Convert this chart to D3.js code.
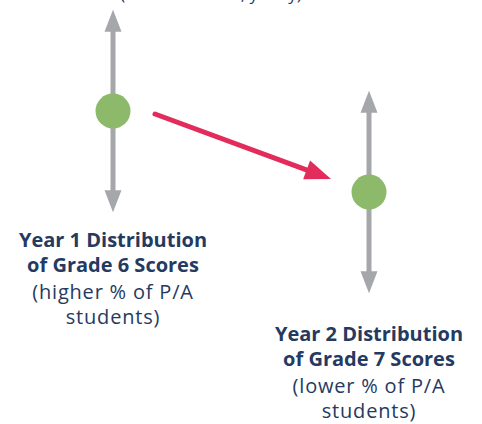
<!DOCTYPE html>
<html>
<head>
<meta charset="utf-8">
<script src="https://cdn.jsdelivr.net/npm/d3@7"></script>
<style>
  html, body { margin: 0; padding: 0; background: #fff; }
  svg { display: block; }
</style>
</head>
<body>
<div id="chart"></div>
<script>
'use strict';

// two distributions: where the mean sits and how far the spread reaches
const years = ["Year 1", "Year 2"];
const means = [60, 40];
const spreadHigh = [85, 65];
const spreadLow = [35, 15];
const titleLines = [["Year 1 Distribution", "of Grade 6 Scores"], ["Year 2 Distribution", "of Grade 7 Scores"]];
const noteLines = [["(higher % of P/A", "students)"], ["(lower % of P/A", "students)"]];
const topNote = "(mean % of P/A, yearly)";

(function() {
  const width = 482, height = 424;
  const gray = "#a6a7ab", green = "#8dba6a", red = "#e22c5b", ink = "#253a60";
  const font = "'Open Sans', Lato, sans-serif";

  let svg = d3.select('#chart').append('svg')
    .attr('width', width)
    .attr('height', height);

  // x position of each distribution
  let xScale = d3.scalePoint()
    .domain(years)
    .range([113, 369]);

  // score -> vertical pixel
  let yScale = d3.scaleLinear()
    .domain([0, 100])
    .range([354, -51]);

  let rows = years.map((y, i) => ({
    year: y, mean: means[i], hi: spreadHigh[i], lo: spreadLow[i],
    title: titleLines[i], note: noteLines[i]
  }));

  // half cut-off caption at the very top (as in the source)
  svg.append('text')
    .attr('x', 211)
    .attr('y', 0)
    .attr('text-anchor', 'middle')
    .style('font-family', font)
    .style('font-size', '17px')
    .style('fill', ink)
    .text(topNote);

  const headLen = 22, headW = 8.5, shaft = 5;

  // spread arrows (vertical, double headed)
  let g = svg.selectAll('.dist')
    .data(rows)
    .enter()
    .append('g')
    .attr('class', 'dist');

  g.append('line')
    .attr('x1', d => xScale(d.year))
    .attr('x2', d => xScale(d.year))
    .attr('y1', d => yScale(d.hi) + headLen - 1)
    .attr('y2', d => yScale(d.lo) - headLen + 1)
    .style('stroke', gray)
    .style('stroke-width', shaft);

  g.append('path')
    .attr('d', d => {
      let x = xScale(d.year), t = yScale(d.hi);
      return `M${x},${t}L${x + headW},${t + headLen}L${x - headW},${t + headLen}Z`;
    })
    .style('fill', gray);

  g.append('path')
    .attr('d', d => {
      let x = xScale(d.year), b = yScale(d.lo);
      return `M${x},${b}L${x + headW},${b - headLen}L${x - headW},${b - headLen}Z`;
    })
    .style('fill', gray);

  g.append('circle')
    .attr('cx', d => xScale(d.year))
    .attr('cy', d => yScale(d.mean))
    .attr('r', 17.5)
    .style('fill', green);

  // labels under each distribution
  g.each(function(d) {
    let x = xScale(d.year);
    let base = yScale(d.lo) + 35 + (d.year === "Year 2" ? 13 : 0);
    let t = d3.select(this).append('text')
      .attr('text-anchor', 'middle')
      .style('font-family', font)
      .style('fill', ink);
    d.title.forEach((line, k) => {
      t.append('tspan')
        .attr('x', x)
        .attr('y', base + k * 25)
        .style('font-weight', 'bold')
        .style('font-size', '20px')
        .text(line);
    });
    d.note.forEach((line, k) => {
      t.append('tspan')
        .attr('x', x)
        .attr('y', base + 52 + k * 25)
        .style('font-size', '20px')
        .style('letter-spacing', '0.8px')
        .text(line);
    });
  });

  // red arrow: change from year 1 to year 2
  let x0 = xScale(years[0]) + 42, y0 = yScale(means[0]) + 3;
  let x1 = xScale(years[1]) - 38, y1 = yScale(means[1]) - 13;
  let ang = Math.atan2(y1 - y0, x1 - x0);
  let rLen = 26, rW = 10;
  let bx = x1 - rLen * Math.cos(ang), by = y1 - rLen * Math.sin(ang);

  svg.append('line')
    .attr('x1', x0).attr('y1', y0)
    .attr('x2', bx + 2 * Math.cos(ang)).attr('y2', by + 2 * Math.sin(ang))
    .style('stroke', red)
    .style('stroke-width', 5)
    .style('stroke-linecap', 'round');

  svg.append('path')
    .attr('d', `M${x1},${y1}L${bx + rW * Math.sin(ang)},${by - rW * Math.cos(ang)}L${bx - rW * Math.sin(ang)},${by + rW * Math.cos(ang)}Z`)
    .style('fill', red);
})();
</script>
</body>
</html>
